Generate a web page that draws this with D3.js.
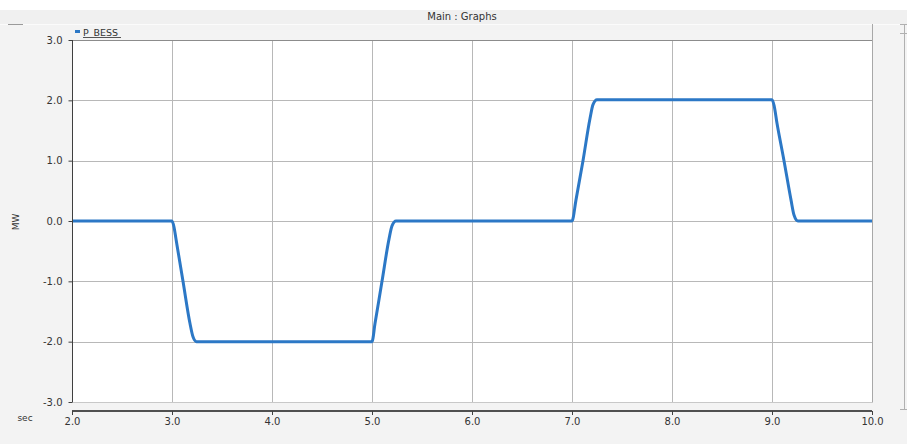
<!DOCTYPE html>
<html>
<head>
<meta charset="utf-8">
<script src="https://cdn.jsdelivr.net/npm/d3@7"></script>
<style>
  html, body { margin: 0; padding: 0; background: #ffffff; }
  svg { display: block; font-family: "DejaVu Sans", Verdana, sans-serif; }
</style>
</head>
<body>
<svg id="chart" width="907" height="444"></svg>
<script>
// P_BESS power trace (MW) against simulation time (sec)
const timeSec = [2.0, 3.0, 3.02, 3.04, 3.11, 3.18, 3.21, 3.245,
                 5.0, 5.03, 5.10, 5.17, 5.20, 5.24,
                 7.0, 7.04, 7.11, 7.18, 7.21, 7.25,
                 9.0, 9.02, 9.05, 9.12, 9.19, 9.22, 9.26, 10.0];
const powerMW = [0.0, 0.0, -0.1, -0.3, -1.0, -1.7, -1.92, -2.0,
                 -2.0, -1.7, -1.0, -0.3, -0.08, 0.0,
                 0.0, 0.35, 1.0, 1.7, 1.93, 2.01,
                 2.01, 1.92, 1.62, 1.0, 0.35, 0.1, 0.0, 0.0];
const xTicks = [2, 3, 4, 5, 6, 7, 8, 9, 10];
const yTicks = [-3, -2, -1, 0, 1, 2, 3];
const seriesName = "P_BESS";
const titleText = "Main : Graphs";

const svg = d3.select("#chart");
const W = 907, H = 444;
const plot = { left: 72, right: 872, top: 40, bottom: 402 };
const fmt = d => d.toFixed(1);  // plain hyphen-minus, one decimal

// window chrome
svg.append("rect").attr("x", 0).attr("y", 10).attr("width", W).attr("height", H - 10).attr("fill", "#f3f3f3");
svg.append("rect").attr("x", 0).attr("y", 10).attr("width", W).attr("height", 14).attr("fill", "#f0f0f0");
svg.append("line").attr("x1", 0).attr("x2", W).attr("y1", 24.5).attr("y2", 24.5).attr("stroke", "#fbfbfb");
svg.append("line").attr("x1", 8).attr("x2", 23).attr("y1", 24.5).attr("y2", 24.5).attr("stroke", "#9a9a9a");
svg.append("text").attr("x", 462).attr("y", 20).attr("text-anchor", "middle")
  .attr("font-size", 10).attr("fill", "#333").text(titleText);

// right side panel
svg.append("line").attr("x1", 904.5).attr("x2", 904.5).attr("y1", 24).attr("y2", 409).attr("stroke", "#b0b0b0");
svg.append("line").attr("x1", 900).attr("x2", 907).attr("y1", 24.5).attr("y2", 24.5).attr("stroke", "#b0b0b0");
svg.append("line").attr("x1", 900).attr("x2", 907).attr("y1", 33.5).attr("y2", 33.5).attr("stroke", "#b0b0b0");
svg.append("line").attr("x1", 900).attr("x2", 907).attr("y1", 409.5).attr("y2", 409.5).attr("stroke", "#b0b0b0");

const x = d3.scaleLinear().domain([2, 10]).range([plot.left, plot.right]);
const y = d3.scaleLinear().domain([-3, 3]).range([plot.bottom, plot.top]);

// plot background
svg.append("rect").attr("x", plot.left).attr("y", plot.top)
  .attr("width", plot.right - plot.left).attr("height", plot.bottom - plot.top).attr("fill", "#ffffff");

// grid
const grid = svg.append("g").attr("stroke", "#b8b8b8").attr("stroke-width", 1);
grid.selectAll(".gx").data(xTicks.slice(1, -1)).join("line")
  .attr("x1", d => Math.round(x(d)) + 0.5).attr("x2", d => Math.round(x(d)) + 0.5)
  .attr("y1", plot.top).attr("y2", plot.bottom);
grid.selectAll(".gy").data(yTicks.slice(1, -1)).join("line")
  .attr("x1", plot.left).attr("x2", plot.right)
  .attr("y1", d => Math.round(y(d)) + 0.5).attr("y2", d => Math.round(y(d)) + 0.5);

// plot frame
svg.append("line").attr("x1", plot.left).attr("x2", plot.right + 1).attr("y1", plot.top + 0.5).attr("y2", plot.top + 0.5).attr("stroke", "#8c8c8c");
svg.append("line").attr("x1", plot.right + 0.5).attr("x2", plot.right + 0.5).attr("y1", 24).attr("y2", plot.bottom).attr("stroke", "#a8a8a8");
svg.append("line").attr("x1", plot.left).attr("x2", plot.right + 1).attr("y1", plot.bottom + 0.5).attr("y2", plot.bottom + 0.5).attr("stroke", "#c8c8c8");

// series line
const line = d3.line().x((d, i) => x(timeSec[i])).y(d => y(d)).curve(d3.curveMonotoneX);
svg.append("path").datum(powerMW).attr("d", line)
  .attr("fill", "none").attr("stroke", "#2c78c6").attr("stroke-width", 3)
  .attr("stroke-linejoin", "round");

// y axis
const yAxis = svg.append("g").attr("transform", `translate(${plot.left + 0.5},0)`)
  .call(d3.axisLeft(y).tickValues(yTicks).tickFormat(fmt).tickSize(4).tickPadding(6));
yAxis.select(".domain").attr("stroke", "#404040").attr("d", `M0,${plot.top}V${plot.bottom}`);
yAxis.selectAll(".tick line").attr("stroke", "#404040");
yAxis.selectAll("text").attr("font-size", 10).attr("fill", "#333").attr("font-family", "DejaVu Sans, Verdana, sans-serif");

// x axis
const xAxis = svg.append("g").attr("transform", `translate(0,411)`)
  .call(d3.axisBottom(x).tickValues(xTicks).tickFormat(fmt).tickSize(4).tickPadding(3));
xAxis.select(".domain").attr("stroke", "#505050").attr("stroke-width", 2).attr("d", `M${plot.left},0H${plot.right}`);
xAxis.selectAll(".tick line").attr("stroke", "#404040");
xAxis.selectAll("text").attr("font-size", 10).attr("fill", "#333").attr("font-family", "DejaVu Sans, Verdana, sans-serif");

// axis titles
svg.append("text").attr("transform", "translate(19,222) rotate(-90)").attr("text-anchor", "middle")
  .attr("font-size", 9).attr("fill", "#333").text("MW");
svg.append("text").attr("x", 25).attr("y", 421).attr("text-anchor", "middle")
  .attr("font-size", 9).attr("fill", "#333").text("sec");

// legend
svg.append("rect").attr("x", 75).attr("y", 30).attr("width", 5).attr("height", 3).attr("fill", "#2c78c6");
svg.append("text").attr("x", 83).attr("y", 36).attr("font-size", 9.5).attr("fill", "#333")
  .attr("text-decoration", "underline").text(seriesName);
svg.append("line").attr("x1", 83).attr("x2", 121).attr("y1", 37.5).attr("y2", 37.5).attr("stroke", "#555");
</script>
</body>
</html>
